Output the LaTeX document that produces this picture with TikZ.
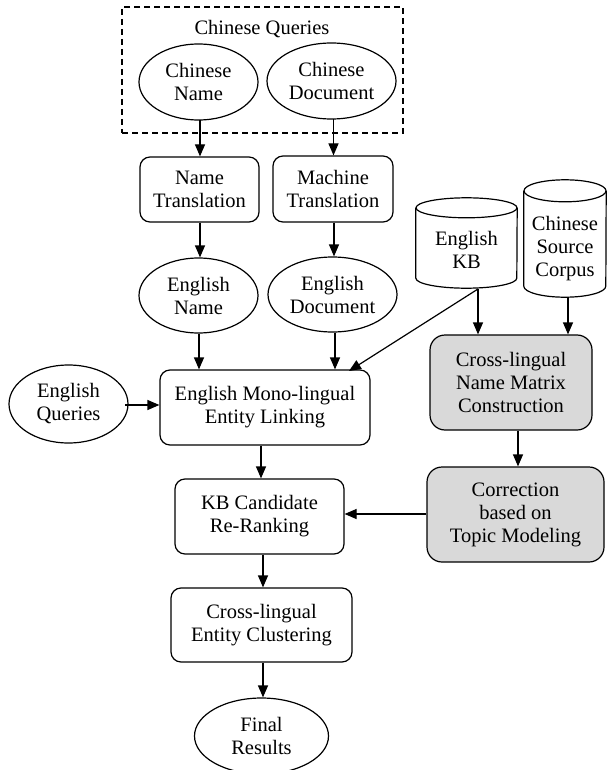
\documentclass[tikz,border=0pt]{standalone}
\usepackage{fontspec}
\setmainfont{Liberation Serif}
\usetikzlibrary{shapes.geometric,arrows.meta,calc}
\begin{document}
\begin{tikzpicture}[x=1pt,y=-1pt,
  every node/.style={font=\fontsize{20.5}{23}\selectfont, align=center, inner sep=0pt},
  lw/.style={line width=1.2pt},
  oval/.style={lw, draw, ellipse},
  rbox/.style={lw, draw, rounded corners=10pt},
  gbox/.style={lw, draw, fill=black!15, rounded corners=15pt},
  arr/.style={lw, -{Triangle[length=12pt,width=10pt]}},
  cylbody/.style={draw=none, fill=none}
]
\useasboundingbox (0,0) rectangle (607,770);

% Chinese queries group
\node[lw, draw, dash pattern=on 6pt off 4pt, minimum width=281, minimum height=126] (cqbox) at (262.5,70) {};
\node (cqlabel) at (262,29) {Chinese Queries};
\node[oval, minimum width=119, minimum height=76] (cn) at (198.5,82) {Chinese\\Name};
\node[oval, minimum width=129, minimum height=76] (cd) at (331.5,81) {Chinese\\Document};

% translation boxes
\node[rbox, minimum width=119, minimum height=65] (nt) at (199.5,189.5) {Name\\Translation};
\node[rbox, minimum width=120, minimum height=66] (mt) at (333,189) {Machine\\Translation};

% English name/doc
\node[oval, minimum width=119, minimum height=75] (en) at (198.5,295.5) {English\\Name};
\node[oval, minimum width=129, minimum height=75] (ed) at (332.5,294.5) {English\\Document};

% English queries and linking
\node[oval, minimum width=119, minimum height=78] (eq) at (68.5,404) {English\\Queries};
\node[rbox, minimum width=210, minimum height=75] (el) at (265,407.5) {English Mono-lingual\\Entity Linking};

% cylinders
\node[cylbody, minimum width=101, minimum height=90] (kb) at (466.5,243) {};
\node (kbtext) at (466.5,250) {English\\KB};
\draw[lw] ($(kb.north west)+(0,10)$) -- ($(kb.south west)+(0,-10)$)
  arc[start angle=180, end angle=360, x radius=50.5pt, y radius=10pt]
  -- ($(kb.north east)+(0,10)$);
\draw[lw] ($(kb.north)+(0,10)$) ellipse[x radius=50.5pt, y radius=10pt];

\node[cylbody, minimum width=82, minimum height=117] (cs) at (565,238.5) {};
\node (cstext) at (565,249) {Chinese\\Source\\Corpus};
\draw[lw] ($(cs.north west)+(0,11)$) -- ($(cs.south west)+(0,-11)$)
  arc[start angle=180, end angle=360, x radius=41pt, y radius=11pt]
  -- ($(cs.north east)+(0,11)$);
\draw[lw] ($(cs.north)+(0,11)$) ellipse[x radius=41pt, y radius=11pt];

% gray boxes
\node[gbox, minimum width=162, minimum height=95] (cm) at (511,382.5) {Cross-lingual\\Name Matrix\\Construction};
\node[gbox, minimum width=177, minimum height=95] (co) at (515.5,514.5) {Correction\\based on\\Topic Modeling};

% lower chain
\node[rbox, minimum width=169, minimum height=75] (kr) at (259.5,516.5) {KB Candidate\\Re-Ranking};
\node[rbox, minimum width=181, minimum height=74] (ec) at (261.5,625) {Cross-lingual\\Entity Clustering};
\node[oval, minimum width=134, minimum height=76] (fr) at (261.5,736) {Final\\Results};

% connectors
\coordinate (kbout) at (478,289);
\coordinate (csout) at (568,297);
\draw[arr] (200,120) -- (200,0 |- nt.north);
\draw[arr] (333.5,119) -- (333.5,0 |- mt.north);
\draw[arr] (200,0 |- nt.south) -- (200,0 |- en.north);
\draw[arr] (334,0 |- mt.south) -- (334,0 |- ed.north);
\draw[arr] (199,0 |- en.south) -- (199,0 |- el.north);
\draw[arr] (335,0 |- ed.south) -- (335,0 |- el.north);
\draw[arr] (kbout) -- (349,371);
\draw[arr] (kbout) -- (kbout |- cm.north);
\draw[arr] (csout) -- (csout |- cm.north);
\draw[arr] (125,405) -- (el.west |- 0,405);
\draw[arr] (261,0 |- el.south) -- (261,0 |- kr.north);
\draw[arr] (518,0 |- cm.south) -- (518,0 |- co.north);
\draw[arr] (co.west |- 0,514) -- (kr.east |- 0,514);
\draw[arr] (263,0 |- kr.south) -- (263,0 |- ec.north);
\draw[arr] (263,0 |- ec.south) -- (263,0 |- fr.north);
\end{tikzpicture}
\end{document}
